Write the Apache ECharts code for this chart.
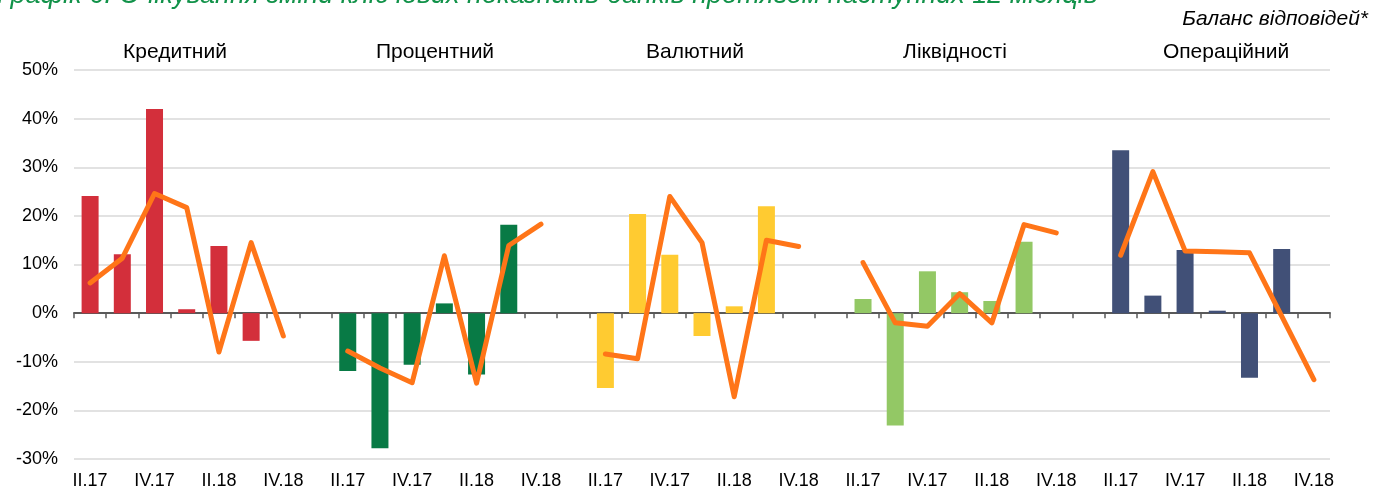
<!DOCTYPE html>
<html>
<head>
<meta charset="utf-8">
<title>Очікування зміни ключових показників банків</title>
<script src="https://cdn.jsdelivr.net/npm/echarts@6.0.0/dist/echarts.min.js"></script>
<style>
body { margin: 0; background: #fff; }
#chart { width: 1373px; height: 490px; }
</style>
</head>
<body>
<div id="chart"></div>
<script>
// квартали в кожній групі
const quarters = ['II.17', 'III.17', 'IV.17', 'I.18', 'II.18', 'III.18', 'IV.18']
const groups = ['Кредитний', 'Процентний', 'Валютний', 'Ліквідності', 'Операційний']
const barColors = ['#d32f3b', '#087a45', '#ffcb31', '#93c865', '#415077']

// стовпчики (баланс відповідей, %)
const creditBars = [24.1, 12.1, 42.0, 0.8, 13.8, -5.7, '-']
const interestBars = [-11.9, -27.8, -10.6, 2.0, -12.6, 18.2, '-']
const currencyBars = [-15.4, 20.4, 12.0, -4.7, 1.4, 22.0, '-']
const liquidityBars = [2.9, -23.1, 8.6, 4.3, 2.5, 14.7, '-']
const operBars = [33.5, 3.6, 13.0, 0.5, -13.3, 13.2, '-']

// лінія (помаранчева)
const creditLine = [6.2, 11.3, 24.6, 21.7, -8.0, 14.5, -4.7]
const interestLine = [-7.8, -11.3, -14.3, 11.8, -14.4, 13.9, 18.3]
const currencyLine = [-8.4, -9.4, 24.0, 14.5, -17.2, 15.0, 13.7]
const liquidityLine = [10.4, -2.0, -2.7, 4.0, -2.0, 18.2, 16.5]
const operLine = [11.9, 29.1, 12.8, 12.6, 12.4, -0.6, -13.7]

const yTicks = { min: -30, max: 50, step: 10 }

const barSets = [creditBars, interestBars, currencyBars, liquidityBars, operBars]
const lineSets = [creditLine, interestLine, currencyLine, liquidityLine, operLine]

// склеюємо групи з порожньою категорією між ними
let cats = []
let barData = []
let lineData = []
for (let g = 0; g < groups.length; g++) {
  if (g > 0) {
    cats.push('')
    barData.push('-')
    lineData.push('-')
  }
  for (let i = 0; i < quarters.length; i++) {
    cats.push(quarters[i])
    barData.push({ value: barSets[g][i], itemStyle: { color: barColors[g] } })
    lineData.push(lineSets[g][i])
  }
}

const font = "'Liberation Sans', Arial, sans-serif"
const headerX = [175, 435, 695, 955, 1226]

let option = {
  animation: false,
  textStyle: { fontFamily: font },
  grid: { left: 74, right: 43, top: 70, bottom: 31 },
  xAxis: [
    {
      type: 'category',
      data: cats,
      axisLine: { onZero: true, lineStyle: { color: '#595959', width: 2 } },
      axisTick: { show: true, interval: 0, length: 5, lineStyle: { color: '#595959', width: 1.5 } },
      axisLabel: { show: false }
    },
    {
      type: 'category',
      data: cats,
      position: 'bottom',
      axisLine: { show: false, onZero: false },
      axisTick: { show: false },
      axisLabel: { interval: 1, color: '#000', fontSize: 18, margin: 13, fontFamily: font }
    }
  ],
  yAxis: {
    type: 'value',
    min: yTicks.min,
    max: yTicks.max,
    interval: yTicks.step,
    axisLine: { show: false },
    axisTick: { show: false },
    axisLabel: { formatter: '{value}%', color: '#000', fontSize: 18, margin: 16, fontFamily: font },
    splitLine: { lineStyle: { color: '#d9d9d9', width: 1.5 } }
  },
  graphic: [
    {
      type: 'text', left: -3, top: -18,
      style: {
        text: 'Графік 6. Очікування зміни ключових показників банків протягом наступних 12 місяців',
        font: 'italic 27px ' + font, fill: '#119249'
      }
    },
    {
      type: 'text', right: 5, top: 9,
      style: { text: 'Баланс відповідей*', font: 'italic 21px ' + font, fill: '#000' }
    }
  ].concat(groups.map(function (name, i) {
    return {
      type: 'text', x: headerX[i], y: 52,
      style: { text: name, font: '21px ' + font, fill: '#000', align: 'center', verticalAlign: 'middle' }
    }
  })),
  series: [
    {
      type: 'bar',
      data: barData,
      barWidth: 17
    },
    {
      type: 'line',
      data: lineData,
      symbol: 'none',
      connectNulls: false,
      lineStyle: { color: '#ff7518', width: 5, cap: 'round', join: 'round' },
      itemStyle: { color: '#ff7518' }
    }
  ]
}

let chart = echarts.init(document.getElementById('chart'))
chart.setOption(option)
</script>
</body>
</html>
